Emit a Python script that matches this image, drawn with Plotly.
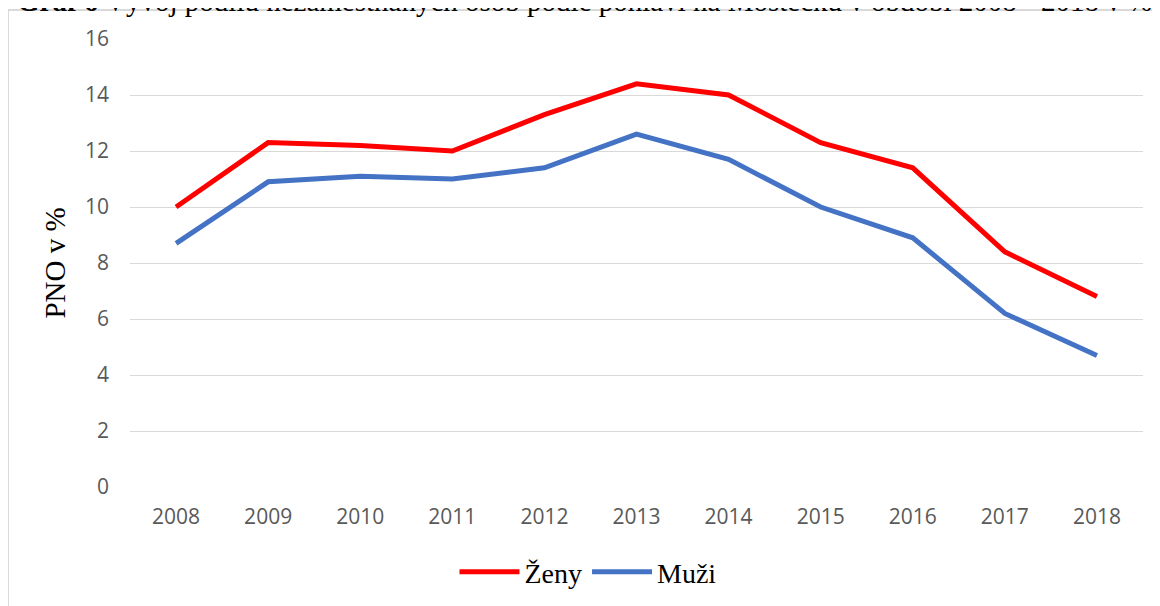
import plotly.graph_objects as go

years = ["2008", "2009", "2010", "2011", "2012", "2013", "2014", "2015", "2016", "2017", "2018"]
zeny = [10.0, 12.3, 12.2, 12.0, 13.3, 14.4, 14.0, 12.3, 11.4, 8.4, 6.8]
muzi = [8.7, 10.9, 11.1, 11.0, 11.4, 12.6, 11.7, 10.0, 8.9, 6.2, 4.7]
y_ticks = [0, 2, 4, 6, 8, 10, 12, 14, 16]

title_text = "<b>Graf 6</b> Vývoj podílu nezaměstnaných osob podle pohlaví na Mostecku v období 2008 - 2018 v %"

W, H = 1160, 606
OFF = 8  # page offset of the figure inside the window
ml, mt = 130 - OFF, 39 - OFF
pw, ph = 1013, 448
mr = W - ml - pw
mb = H - mt - ph

def px_x(p):
    return (p - OFF - ml) / pw

def px_y(p):
    return (mt + ph - (p - OFF)) / ph

fig = go.Figure()
fig.add_trace(go.Scatter(x=years, y=zeny, mode="lines", name="Ženy",
                         line=dict(color="#FF0000", width=5)))
fig.add_trace(go.Scatter(x=years, y=muzi, mode="lines", name="Muži",
                         line=dict(color="#4472C4", width=5)))

fig.update_layout(
    width=W, height=H,
    margin=dict(l=ml, r=mr, t=mt, b=mb, autoexpand=False),
    paper_bgcolor="white", plot_bgcolor="white",
    showlegend=True,
    legend=dict(orientation="h", x=px_x(588), xanchor="center", y=px_y(572), yanchor="middle",
                font=dict(family="Liberation Serif", size=28, color="black"),
                itemwidth=60),
    xaxis=dict(type="category", range=[-0.5, 10.5], showgrid=False, showline=False,
               zeroline=False, ticks="", ticklabelstandoff=15,
               tickfont=dict(family="Open Sans", size=21, color="#595959")),
    yaxis=dict(range=[0, 16], tickvals=y_ticks, showgrid=True, gridcolor="#D9D9D9", gridwidth=1.3,
               zeroline=False, showline=False, ticks="", ticklabelstandoff=20,
               tickfont=dict(family="Open Sans", size=21, color="#595959"),
               title=dict(text="PNO v %", standoff=10,
                          font=dict(family="Liberation Serif", size=29, color="black"))),
    shapes=[
        dict(type="line", xref="paper", yref="paper", x0=px_x(8), x1=px_x(W + 20),
             y0=px_y(10), y1=px_y(10), line=dict(color="#D9D9D9", width=2)),
        dict(type="line", xref="paper", yref="paper", x0=px_x(8), x1=px_x(8),
             y0=px_y(10), y1=px_y(H + 20), line=dict(color="#D9D9D9", width=2)),
    ],
    annotations=[
        dict(text=title_text, xref="paper", yref="paper", x=px_x(15), xanchor="left",
             y=px_y(1), yanchor="middle", showarrow=False,
             font=dict(family="Liberation Serif", size=29, color="black")),
    ],
)

fig.write_html("out.html")
